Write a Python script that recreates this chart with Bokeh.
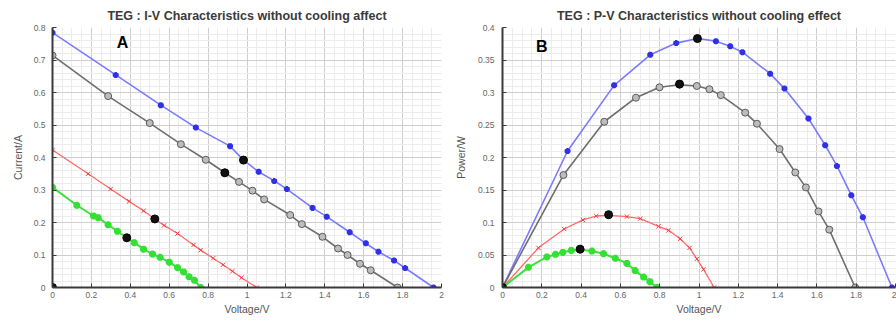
from bokeh.plotting import figure
from bokeh.layouts import row
from bokeh.models import SingleIntervalTicker, CustomJSTickFormatter, Range1d, Label
from bokeh.embed import file_html
from bokeh.resources import INLINE

# ---------------- Panel A : I-V ----------------
blue_v_A = [0, 0.325, 0.557, 0.737, 0.913, 0.982, 1.06, 1.14, 1.205, 1.337, 1.41, 1.528, 1.611, 1.676, 1.756, 1.813, 1.959]
blue_i_A = [0.784, 0.654, 0.561, 0.492, 0.435, 0.392, 0.356, 0.328, 0.303, 0.245, 0.218, 0.170, 0.136, 0.110, 0.083, 0.060, 0.0]

gray_v_A = [0, 0.286, 0.500, 0.660, 0.788, 0.886, 0.959, 1.028, 1.088, 1.222, 1.282, 1.388, 1.468, 1.517, 1.581, 1.636, 1.774]
gray_i_A = [0.714, 0.589, 0.506, 0.441, 0.393, 0.353, 0.325, 0.298, 0.271, 0.223, 0.195, 0.156, 0.120, 0.100, 0.073, 0.053, 0.0]

red_v_A = [0, 0.183, 0.299, 0.394, 0.468, 0.526, 0.574, 0.643, 0.725, 0.762, 0.826, 0.877, 0.925, 0.972, 1.050]
red_i_A = [0.423, 0.350, 0.303, 0.265, 0.236, 0.211, 0.191, 0.166, 0.131, 0.115, 0.090, 0.070, 0.050, 0.030, 0.0]

green_v_A = [0, 0.125, 0.211, 0.235, 0.286, 0.334, 0.382, 0.420, 0.468, 0.514, 0.553, 0.600, 0.643, 0.674, 0.702, 0.730, 0.762]
green_i_A = [0.308, 0.253, 0.220, 0.215, 0.193, 0.173, 0.153, 0.138, 0.118, 0.103, 0.093, 0.078, 0.061, 0.048, 0.033, 0.022, 0.0]

mpp_v_A = [0, 0.982, 0.886, 0.526, 0.382]
mpp_i_A = [0, 0.392, 0.353, 0.211, 0.153]

# ---------------- Panel B : P-V ----------------
blue_v_B = [0, 0.331, 0.568, 0.752, 0.884, 0.992, 1.086, 1.159, 1.221, 1.362, 1.435, 1.557, 1.642, 1.702, 1.775, 1.834, 1.982]
blue_p_B = [0, 0.210, 0.311, 0.358, 0.376, 0.383, 0.379, 0.371, 0.362, 0.329, 0.306, 0.260, 0.219, 0.187, 0.142, 0.108, 0.0]

gray_v_B = [0, 0.310, 0.518, 0.679, 0.799, 0.901, 0.989, 1.053, 1.111, 1.235, 1.295, 1.410, 1.490, 1.544, 1.608, 1.663, 1.795]
gray_p_B = [0, 0.173, 0.255, 0.292, 0.308, 0.312, 0.310, 0.305, 0.296, 0.269, 0.252, 0.213, 0.177, 0.154, 0.117, 0.089, 0.0]

red_v_B = [0, 0.183, 0.314, 0.409, 0.477, 0.540, 0.633, 0.701, 0.794, 0.845, 0.904, 0.952, 0.989, 1.023, 1.077]
red_p_B = [0, 0.061, 0.090, 0.104, 0.110, 0.111, 0.109, 0.106, 0.094, 0.088, 0.075, 0.061, 0.044, 0.028, 0.0]

green_v_B = [0, 0.132, 0.226, 0.270, 0.307, 0.350, 0.395, 0.455, 0.514, 0.574, 0.633, 0.675, 0.718, 0.750, 0.786]
green_p_B = [0, 0.031, 0.047, 0.051, 0.054, 0.057, 0.058, 0.056, 0.052, 0.045, 0.037, 0.026, 0.016, 0.009, 0.0]

mpp_v_B = [0, 0.992, 0.901, 0.540, 0.395]
mpp_p_B = [0, 0.383, 0.313, 0.112, 0.059]

x_ticks_step = 0.2
titleA = "TEG : I-V Characteristics without cooling affect"
titleB = "TEG : P-V Characteristics without cooling effect"

FONT = "Liberation Sans"
fmt = CustomJSTickFormatter(code="return tick.toFixed(2).replace(/\\.?0+$/, '');")


def style(p, ystep, yminor):
    p.xaxis.ticker = SingleIntervalTicker(interval=x_ticks_step, num_minor_ticks=4)
    p.yaxis.ticker = SingleIntervalTicker(interval=ystep, num_minor_ticks=yminor)
    for ax in (p.xaxis, p.yaxis):
        ax.formatter = fmt
        ax.axis_line_color = "#3a3a3a"
        ax.axis_line_width = 2
        ax.major_tick_in = 4
        ax.major_tick_out = 0
        ax.minor_tick_in = 0
        ax.minor_tick_out = 0
        ax.major_tick_line_color = "#3a3a3a"
        ax.major_label_text_font = FONT
        ax.major_label_text_font_size = "8.5px"
        ax.major_label_text_color = "#666666"
        ax.axis_label_text_font = FONT
        ax.axis_label_text_font_size = "10.5px"
        ax.axis_label_text_font_style = "normal"
        ax.axis_label_text_color = "#555555"
    p.xaxis.major_label_standoff = 4
    p.xaxis.axis_label_standoff = 2
    for g in (p.xgrid, p.ygrid):
        g.grid_line_color = "#cfcfcf"
        g.grid_line_width = 1
        g.minor_grid_line_color = "#ececec"
        g.minor_grid_line_width = 1
    p.outline_line_color = None
    p.background_fill_color = "white"
    p.title.text_font = FONT
    p.title.text_font_size = "12.5px"
    p.title.text_font_style = "bold"
    p.title.text_color = "#3a3a3a"
    p.title.align = "center"


def draw(p, bv, b, gv, g, rv, r, grv, gr, mv, m):
    p.line(bv, b, line_color="#7b7bff", line_width=1.6)
    p.scatter(bv, b, marker="asterisk", size=6, line_color="#3030e6", line_width=2.5)
    p.line(gv, g, line_color="#6e6e6e", line_width=1.6)
    p.scatter(gv, g, marker="circle", size=7, fill_color="#bdbdbd", line_color="#5a5a5a", line_width=1)
    p.line(rv, r, line_color="#ff6a6a", line_width=1.3)
    p.scatter(rv, r, marker="x", size=6, line_color="#ee3b3b", line_width=1)
    p.line(grv, gr, line_color="#3de03d", line_width=2)
    p.scatter(grv, gr, marker="asterisk", size=7, line_color="#33e033", line_width=2.5)
    p.scatter(mv, m, marker="circle", size=8, fill_color="#111111", line_color="#000000")


# Panel A
pA = figure(width=450, height=323, output_backend="svg", toolbar_location=None,
            x_range=Range1d(0, 2), y_range=Range1d(0, 0.8), title=titleA,
            x_axis_label="Voltage/V", y_axis_label="Current/A",
            min_border_left=52, min_border_right=9, min_border_top=27, min_border_bottom=30)
style(pA, 0.1, 5)
pA.yaxis.major_label_standoff = 7
pA.yaxis.axis_label_standoff = 7
draw(pA, blue_v_A, blue_i_A, gray_v_A, gray_i_A, red_v_A, red_i_A, green_v_A, green_i_A, mpp_v_A, mpp_i_A)
pA.add_layout(Label(x=0.33, y=0.753, text="A", text_font=FONT, text_font_size="16px",
                    text_font_style="bold", text_color="black", text_baseline="middle"))

# Panel B
pB = figure(width=446, height=323, output_backend="svg", toolbar_location=None,
            x_range=Range1d(0, 2), y_range=Range1d(0, 0.4), title=titleB,
            x_axis_label="Voltage/V", y_axis_label="Power/W",
            min_border_left=52, min_border_right=1, min_border_top=26, min_border_bottom=36)
style(pB, 0.05, 5)
pB.yaxis.major_label_standoff = 8
pB.yaxis.axis_label_standoff = 8
draw(pB, blue_v_B, blue_p_B, gray_v_B, gray_p_B, red_v_B, red_p_B, green_v_B, green_p_B, mpp_v_B, mpp_p_B)
pB.add_layout(Label(x=0.17, y=0.371, text="B", text_font=FONT, text_font_size="16px",
                    text_font_style="bold", text_color="black", text_baseline="middle"))

layout = row(pA, pB)
open("out.html", "w").write(file_html(layout, INLINE))
